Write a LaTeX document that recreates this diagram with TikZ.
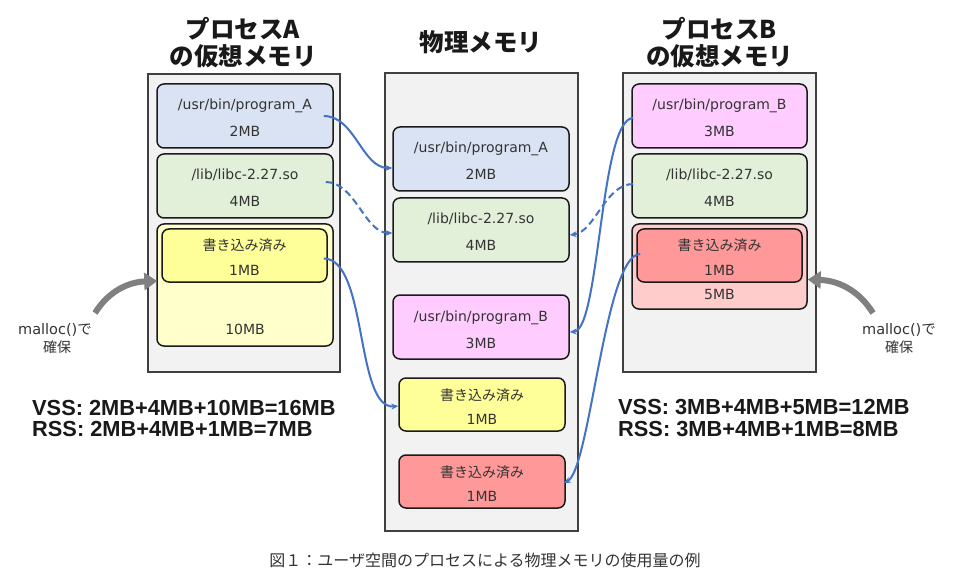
\documentclass[tikz,border=0pt]{standalone}
\usepackage{fontspec}
\setmainfont{DejaVu Sans}
\newfontfamily\jp{Noto Sans CJK JP}
\newfontfamily\vssfont{Liberation Sans}
\usetikzlibrary{arrows.meta,calc}
\definecolor{panelbg}{HTML}{F2F2F2}
\definecolor{panelline}{HTML}{404040}
\definecolor{boxline}{HTML}{1A1A1A}
\definecolor{txt}{HTML}{333333}
\definecolor{cBlue}{HTML}{DAE3F3}
\definecolor{cGreen}{HTML}{E2F0D9}
\definecolor{cPink}{HTML}{FFCCFF}
\definecolor{cYellow}{HTML}{FFFF99}
\definecolor{cLYellow}{HTML}{FFFFCC}
\definecolor{cRed}{HTML}{FF9999}
\definecolor{cLRed}{HTML}{FFCCCC}
\definecolor{linkblue}{HTML}{4472C4}
\definecolor{grayarrow}{HTML}{808080}
\tikzset{
  panel/.style={draw=panelline, fill=panelbg, line width=1.2pt, inner sep=0},
  membox/.style={draw=boxline, line width=1.5pt, rounded corners=7pt, inner sep=0},
  lbl/.style={anchor=base, inner sep=0, text=txt, font=\fontsize{14}{16}\selectfont},
  jlbl/.style={anchor=base, inner sep=0, text=txt, font=\jp\fontsize{14}{16}\selectfont},
  title/.style={anchor=base, inner sep=0, text=black!90, font=\jp\bfseries\fontsize{24.5}{28}\selectfont},
  sumtxt/.style={anchor=base west, inner sep=0, text=black!90, font=\vssfont\bfseries\fontsize{21.8}{24}\selectfont},
  link/.style={draw=linkblue, line width=2pt, -{Stealth[length=7pt,width=6pt]}},
  dlink/.style={link, dash pattern=on 7pt off 4pt},
  malloc/.style={draw=grayarrow, line width=6pt, -{Triangle[length=13pt,width=17pt]}},
}
\begin{document}
\begin{tikzpicture}[x=1pt,y=-1pt]
\useasboundingbox[fill=white] (0,0) rectangle (956,580);

% titles
\node[title] (tA1) at (243,38.5) {プロセスA};
\node[title] (tA2) at (243,66) {の仮想メモリ};
\node[title] (tM) at (481,52) {物理メモリ};
\node[title] (tB1) at (719.5,38.5) {プロセスB};
\node[title] (tB2) at (719.5,66) {の仮想メモリ};

% panels
\node[panel, minimum width=192pt, minimum height=298pt] (pnA) at (244,223) {};
\node[panel, minimum width=193pt, minimum height=458pt] (pnM) at (481.5,302) {};
\node[panel, minimum width=193pt, minimum height=299pt] (pnB) at (719.5,222.5) {};

% process A
\node[membox, fill=cBlue, minimum width=176pt, minimum height=64pt] (aProg) at (245,116) {};
\node[lbl] (aProg1) at (245,110) {/usr/bin/program\_A};
\node[lbl] (aProg2) at (245,137) {2MB};
\node[membox, fill=cGreen, minimum width=176pt, minimum height=64pt] (aLib) at (245,186) {};
\node[lbl] (aLib1) at (245,180) {/lib/libc-2.27.so};
\node[lbl] (aLib2) at (245,207) {4MB};
\node[membox, fill=cLYellow, minimum width=176pt, minimum height=122pt] (aHeap) at (245,285) {};
\node[lbl] (aHeap1) at (245,334) {10MB};
\node[membox, fill=cYellow, minimum width=165pt, minimum height=53pt] (aW) at (244.5,255.5) {};
\node[jlbl] (aW1) at (244.5,251) {書き込み済み};
\node[lbl] (aW2) at (244.5,276) {1MB};

% physical memory
\node[membox, fill=cBlue, minimum width=176pt, minimum height=64pt] (mA) at (481,159) {};
\node[lbl] (mA1) at (481,153) {/usr/bin/program\_A};
\node[lbl] (mA2) at (481,179.5) {2MB};
\node[membox, fill=cGreen, minimum width=176pt, minimum height=64pt] (mL) at (481,230) {};
\node[lbl] (mL1) at (481,224) {/lib/libc-2.27.so};
\node[lbl] (mL2) at (481,251) {4MB};
\node[membox, fill=cPink, minimum width=176pt, minimum height=64pt] (mB) at (481,327) {};
\node[lbl] (mB1) at (481,321) {/usr/bin/program\_B};
\node[lbl] (mB2) at (481,348) {3MB};
\node[membox, fill=cYellow, minimum width=166pt, minimum height=53pt] (mY) at (482,404.5) {};
\node[jlbl] (mY1) at (482,400) {書き込み済み};
\node[lbl] (mY2) at (482,424) {1MB};
\node[membox, fill=cRed, minimum width=166pt, minimum height=53pt] (mR) at (482,481.5) {};
\node[jlbl] (mR1) at (482,477) {書き込み済み};
\node[lbl] (mR2) at (482,501) {1MB};

% process B
\node[membox, fill=cPink, minimum width=175pt, minimum height=64pt] (bProg) at (719.5,116) {};
\node[lbl] (bProg1) at (719.5,110) {/usr/bin/program\_B};
\node[lbl] (bProg2) at (719.5,137) {3MB};
\node[membox, fill=cGreen, minimum width=175pt, minimum height=64pt] (bLib) at (719.5,186) {};
\node[lbl] (bLib1) at (719.5,180) {/lib/libc-2.27.so};
\node[lbl] (bLib2) at (719.5,207) {4MB};
\node[membox, fill=cLRed, minimum width=175pt, minimum height=85pt] (bHeap) at (719.5,266.5) {};
\node[lbl] (bHeap1) at (719.5,299) {5MB};
\node[membox, fill=cRed, minimum width=165pt, minimum height=53pt] (bW) at (719.5,255.5) {};
\node[jlbl] (bW1) at (719.5,251) {書き込み済み};
\node[lbl] (bW2) at (719.5,276) {1MB};

% links A
\draw[link] ($(aProg.east)+(-10,0)$) .. controls (355,116) and (362,168) .. ($(mA.west)+(0,9)$);
\draw[dlink] ($(aLib.east)+(-8,-4)$) .. controls (355,182) and (365,233) .. ($(mL.west)+(0,3)$);
\draw[link] ($(aW.east)+(-4,3)$) .. controls (368,259) and (355,410) .. ($(mY.west)+(0,1.5)$);

% links B
\draw[link] ($(bProg.west)+(2,2)$) .. controls (600,118) and (600,330) .. ($(mB.east)+(0,5)$);
\draw[dlink] ($(bLib.west)+(2,-2)$) .. controls (605,184) and (595,232) .. ($(mL.east)+(0,5)$);
\draw[link] ($(bW.west)+(4,-1.5)$) .. controls (605,254) and (590,470) .. ($(mR.east)+(-2,1.5)$);

% malloc
\coordinate (mlA) at (95,313);
\coordinate (mlB) at (873,313);
\draw[malloc] (mlA) to[out=58,in=182] ($(aHeap.west)+(1,-4)$);
\draw[malloc] (mlB) to[out=122,in=-2] ($(bHeap.east)+(0,13)$);
\node[anchor=base, inner sep=0, text=txt, font=\fontsize{14.5}{16}\selectfont] (mtA1) at (55,334) {malloc()\jp で};
\node[jlbl] (mtA2) at (57,352) {確保};
\node[anchor=base, inner sep=0, text=txt, font=\fontsize{14.5}{16}\selectfont] (mtB1) at (899,334) {malloc()\jp で};
\node[jlbl] (mtB2) at (899,352) {確保};

% sums
\node[sumtxt] (vA) at (32,415) {VSS: 2MB+4MB+10MB=16MB};
\node[sumtxt] (rA) at (32,436.5) {RSS: 2MB+4MB+1MB=7MB};
\node[sumtxt] (vB) at (618,414) {VSS: 3MB+4MB+5MB=12MB};
\node[sumtxt] (rB) at (618,436.5) {RSS: 3MB+4MB+1MB=8MB};

% caption
\node[anchor=base, inner sep=0, text=txt, font=\jp\fontsize{16}{18}\selectfont] (cap) at (485,566) {図１：ユーザ空間のプロセスによる物理メモリの使用量の例};
\end{tikzpicture}
\end{document}
